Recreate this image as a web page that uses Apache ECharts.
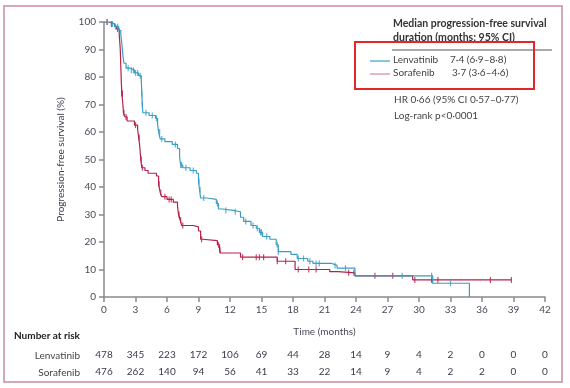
<!DOCTYPE html>
<html><head><meta charset="utf-8">
<script src="https://cdn.jsdelivr.net/npm/echarts@6/dist/echarts.min.js"></script>
<style>html,body{margin:0;padding:0;background:#fff}#c{width:570px;height:388px}</style>
</head><body><div id="c"></div>
<script>
// Kaplan–Meier steps: [time (months), survival %]
var lenvatinibSteps = [[0,100],[0.6,99.3],[1.0,98.3],[1.4,97],[1.6,95.5],[1.7,92],[1.8,88],[1.9,85],[2.1,83.2],[2.5,82.5],[2.9,81.5],[3.3,80.5],[3.55,79],[3.6,74],[3.65,70],[3.7,67],[4.3,66],[4.9,65],[5.1,63],[5.2,60],[5.35,57.5],[5.8,56.5],[6.5,55.5],[7.0,54],[7.2,51],[7.3,48],[7.5,47],[8.2,46],[8.8,45],[9.0,42],[9.1,39],[9.2,36],[9.8,35.5],[10.7,34],[10.9,32],[11.3,31.5],[12.3,31],[13.0,29],[13.3,27.5],[14.0,26],[14.5,25],[14.8,23.5],[15.1,22],[15.8,21],[16.4,19],[16.6,16.5],[17.8,15.5],[18.4,14],[19.4,13],[19.9,12.2],[21.7,11.5],[22.2,10.5],[23.9,7.7],[31.3,5],[34.8,0]];
var sorafenibSteps = [[0,100],[0.5,99.3],[1.0,98.5],[1.2,97.5],[1.45,95.5],[1.55,90],[1.6,84],[1.65,78],[1.7,74],[1.8,70],[1.85,67],[2.0,65.5],[2.2,64],[2.9,62.5],[3.2,61],[3.3,58],[3.4,55],[3.5,50],[3.6,47],[3.9,46],[4.2,45],[5.0,44],[5.2,41],[5.35,38],[5.5,36.5],[6.0,35.5],[6.6,34.5],[7.0,33],[7.1,30],[7.25,28],[7.4,26],[8.5,25.5],[9.0,24],[9.2,21],[9.4,20.5],[10.8,19],[11.0,17],[11.1,16],[13.0,14.5],[16.5,13],[18.2,10],[21.5,9.2],[22.3,8.8],[23.9,7.7],[29.4,6.2],[38.8,6.2]];
var lenvatinibCensor = [0.3,0.8,1.1,1.3,2.3,2.6,2.8,3.0,3.2,3.45,3.6,3.65,4.0,4.6,5.0,5.3,5.5,6.8,7.3,7.4,7.8,8.5,9.05,9.15,9.5,10.8,11.6,12.5,13.5,14.2,14.6,14.9,15.0,15.5,16.5,16.6,18.5,19.0,19.6,20.2,20.5,22.0,23.0,28.4,31.2,33.0];
var sorafenibCensor = [0.3,0.7,1.3,1.7,1.75,1.9,2.1,3.0,3.35,3.55,3.65,5.25,5.4,5.8,6.2,6.4,7.15,7.3,7.5,9.3,10.9,11.05,13.2,14.5,14.8,15.2,16.5,17.3,18.5,19.5,20.2,23.3,23.8,25.8,27.5,29.6,31.2,31.8,36.8,38.8];
var lenvatinibRisk = [478,345,223,172,106,69,44,28,14,9,4,2,0,0,0];
var sorafenibRisk = [476,262,140,94,56,41,33,22,14,9,4,2,2,0,0];

var BLUE = '#3a9ec3', RED = '#b52148';
var FONT = 'Lato, "Noto Sans", sans-serif';
function atTime(steps, t){ var s = steps[0][1]; for (var i=0;i<steps.length;i++){ if (steps[i][0] <= t) s = steps[i][1]; } return s; }
function censorPts(steps, times){ return times.map(function(t){ return [t, atTime(steps,t)]; }); }

var chart = echarts.init(document.getElementById('c'), null, {renderer:'canvas'});
var labelStyle = {color:'#4a4a58', fontSize:10, fontFamily:FONT};
function riskAxis(arr, off){
  return {type:'value', min:0, max:42, interval:3, position:'bottom', offset:off,
    axisLine:{show:false}, axisTick:{show:false}, splitLine:{show:false},
    axisLabel:{color:'#3a3a48', fontSize:10, fontFamily:FONT, margin:0,
      formatter:function(v){ return String(arr[Math.round(v/3)]); }}};
}
chart.setOption({
  animation:false,
  grid:{left:104, top:22, right:25, bottom:91},
  xAxis:[{type:'value', min:0, max:42, interval:3,
    name:'Time (months)', nameLocation:'middle', nameGap:30,
    nameTextStyle:{color:'#4a4a58', fontSize:10, fontFamily:FONT},
    axisLine:{lineStyle:{color:'#8a8a8a', width:1.5}},
    axisTick:{lineStyle:{color:'#8a8a8a', width:1.5}, length:5},
    splitLine:{show:false}, axisLabel:labelStyle},
    riskAxis(lenvatinibRisk, 53), riskAxis(sorafenibRisk, 70)],
  yAxis:{type:'value', min:0, max:100, interval:10,
    name:'Progression-free survival (%)', nameLocation:'middle', nameGap:38,
    nameTextStyle:{color:'#3a3a48', fontSize:10, fontFamily:FONT},
    axisLine:{show:true, lineStyle:{color:'#8a8a8a', width:1.5}},
    axisTick:{show:true, lineStyle:{color:'#8a8a8a', width:1.5}, length:5},
    splitLine:{show:false}, axisLabel:labelStyle},
  series:[
    {type:'line', step:'end', data:sorafenibSteps, showSymbol:false, lineStyle:{color:RED, width:1.2}, z:3},
    {type:'line', step:'end', data:lenvatinibSteps, showSymbol:false, lineStyle:{color:BLUE, width:1.2}, z:4},
    {type:'scatter', data:censorPts(sorafenibSteps, sorafenibCensor), symbol:'rect', symbolSize:[1.2,6], itemStyle:{color:RED}, z:3},
    {type:'scatter', data:censorPts(lenvatinibSteps, lenvatinibCensor), symbol:'rect', symbolSize:[1.2,6], itemStyle:{color:BLUE}, z:4}
  ],
  graphic:[
    {type:'rect', shape:{x:4, y:6, width:558, height:376}, style:{fill:'none', stroke:'#c98c9c', lineWidth:1.5}},
    {type:'text', x:393, y:18, style:{text:'Median progression-free survival', font:'bold 10.5px '+FONT, fill:'#333'}},
    {type:'text', x:393, y:32, style:{text:'duration (months; 95% CI)', font:'bold 10.5px '+FONT, fill:'#333'}},
    {type:'line', shape:{x1:392, y1:50, x2:552, y2:50}, style:{stroke:'#555', lineWidth:1}},
    {type:'rect', shape:{x:355, y:42, width:179, height:47}, style:{fill:'none', stroke:'#e3262a', lineWidth:2}},
    {type:'line', shape:{x1:370, y1:61, x2:390, y2:61}, style:{stroke:BLUE, lineWidth:1.2}},
    {type:'line', shape:{x1:370, y1:74, x2:390, y2:74}, style:{stroke:'#d9869b', lineWidth:1.2}},
    {type:'text', x:393, y:55, style:{text:'Lenvatinib', font:'10px '+FONT, fill:'#444'}},
    {type:'text', x:450, y:55, style:{text:'7·4 (6·9–8·8)', font:'10px '+FONT, fill:'#444'}},
    {type:'text', x:393, y:68, style:{text:'Sorafenib', font:'10px '+FONT, fill:'#444'}},
    {type:'text', x:452, y:68, style:{text:'3·7 (3·6–4·6)', font:'10px '+FONT, fill:'#444'}},
    {type:'text', x:394, y:95, style:{text:'HR 0·66 (95% CI 0·57–0·77)', font:'10px '+FONT, fill:'#444'}},
    {type:'text', x:394, y:111, style:{text:'Log-rank p<0·0001', font:'10px '+FONT, fill:'#444'}},
    {type:'text', x:14, y:331, style:{text:'Number at risk', font:'bold 10px '+FONT, fill:'#222'}},
    {type:'text', x:80, y:356, style:{text:'Lenvatinib', font:'10px '+FONT, fill:'#444', align:'right', verticalAlign:'middle'}},
    {type:'text', x:80, y:373, style:{text:'Sorafenib', font:'10px '+FONT, fill:'#444', align:'right', verticalAlign:'middle'}}
  ]
});
</script></body></html>
